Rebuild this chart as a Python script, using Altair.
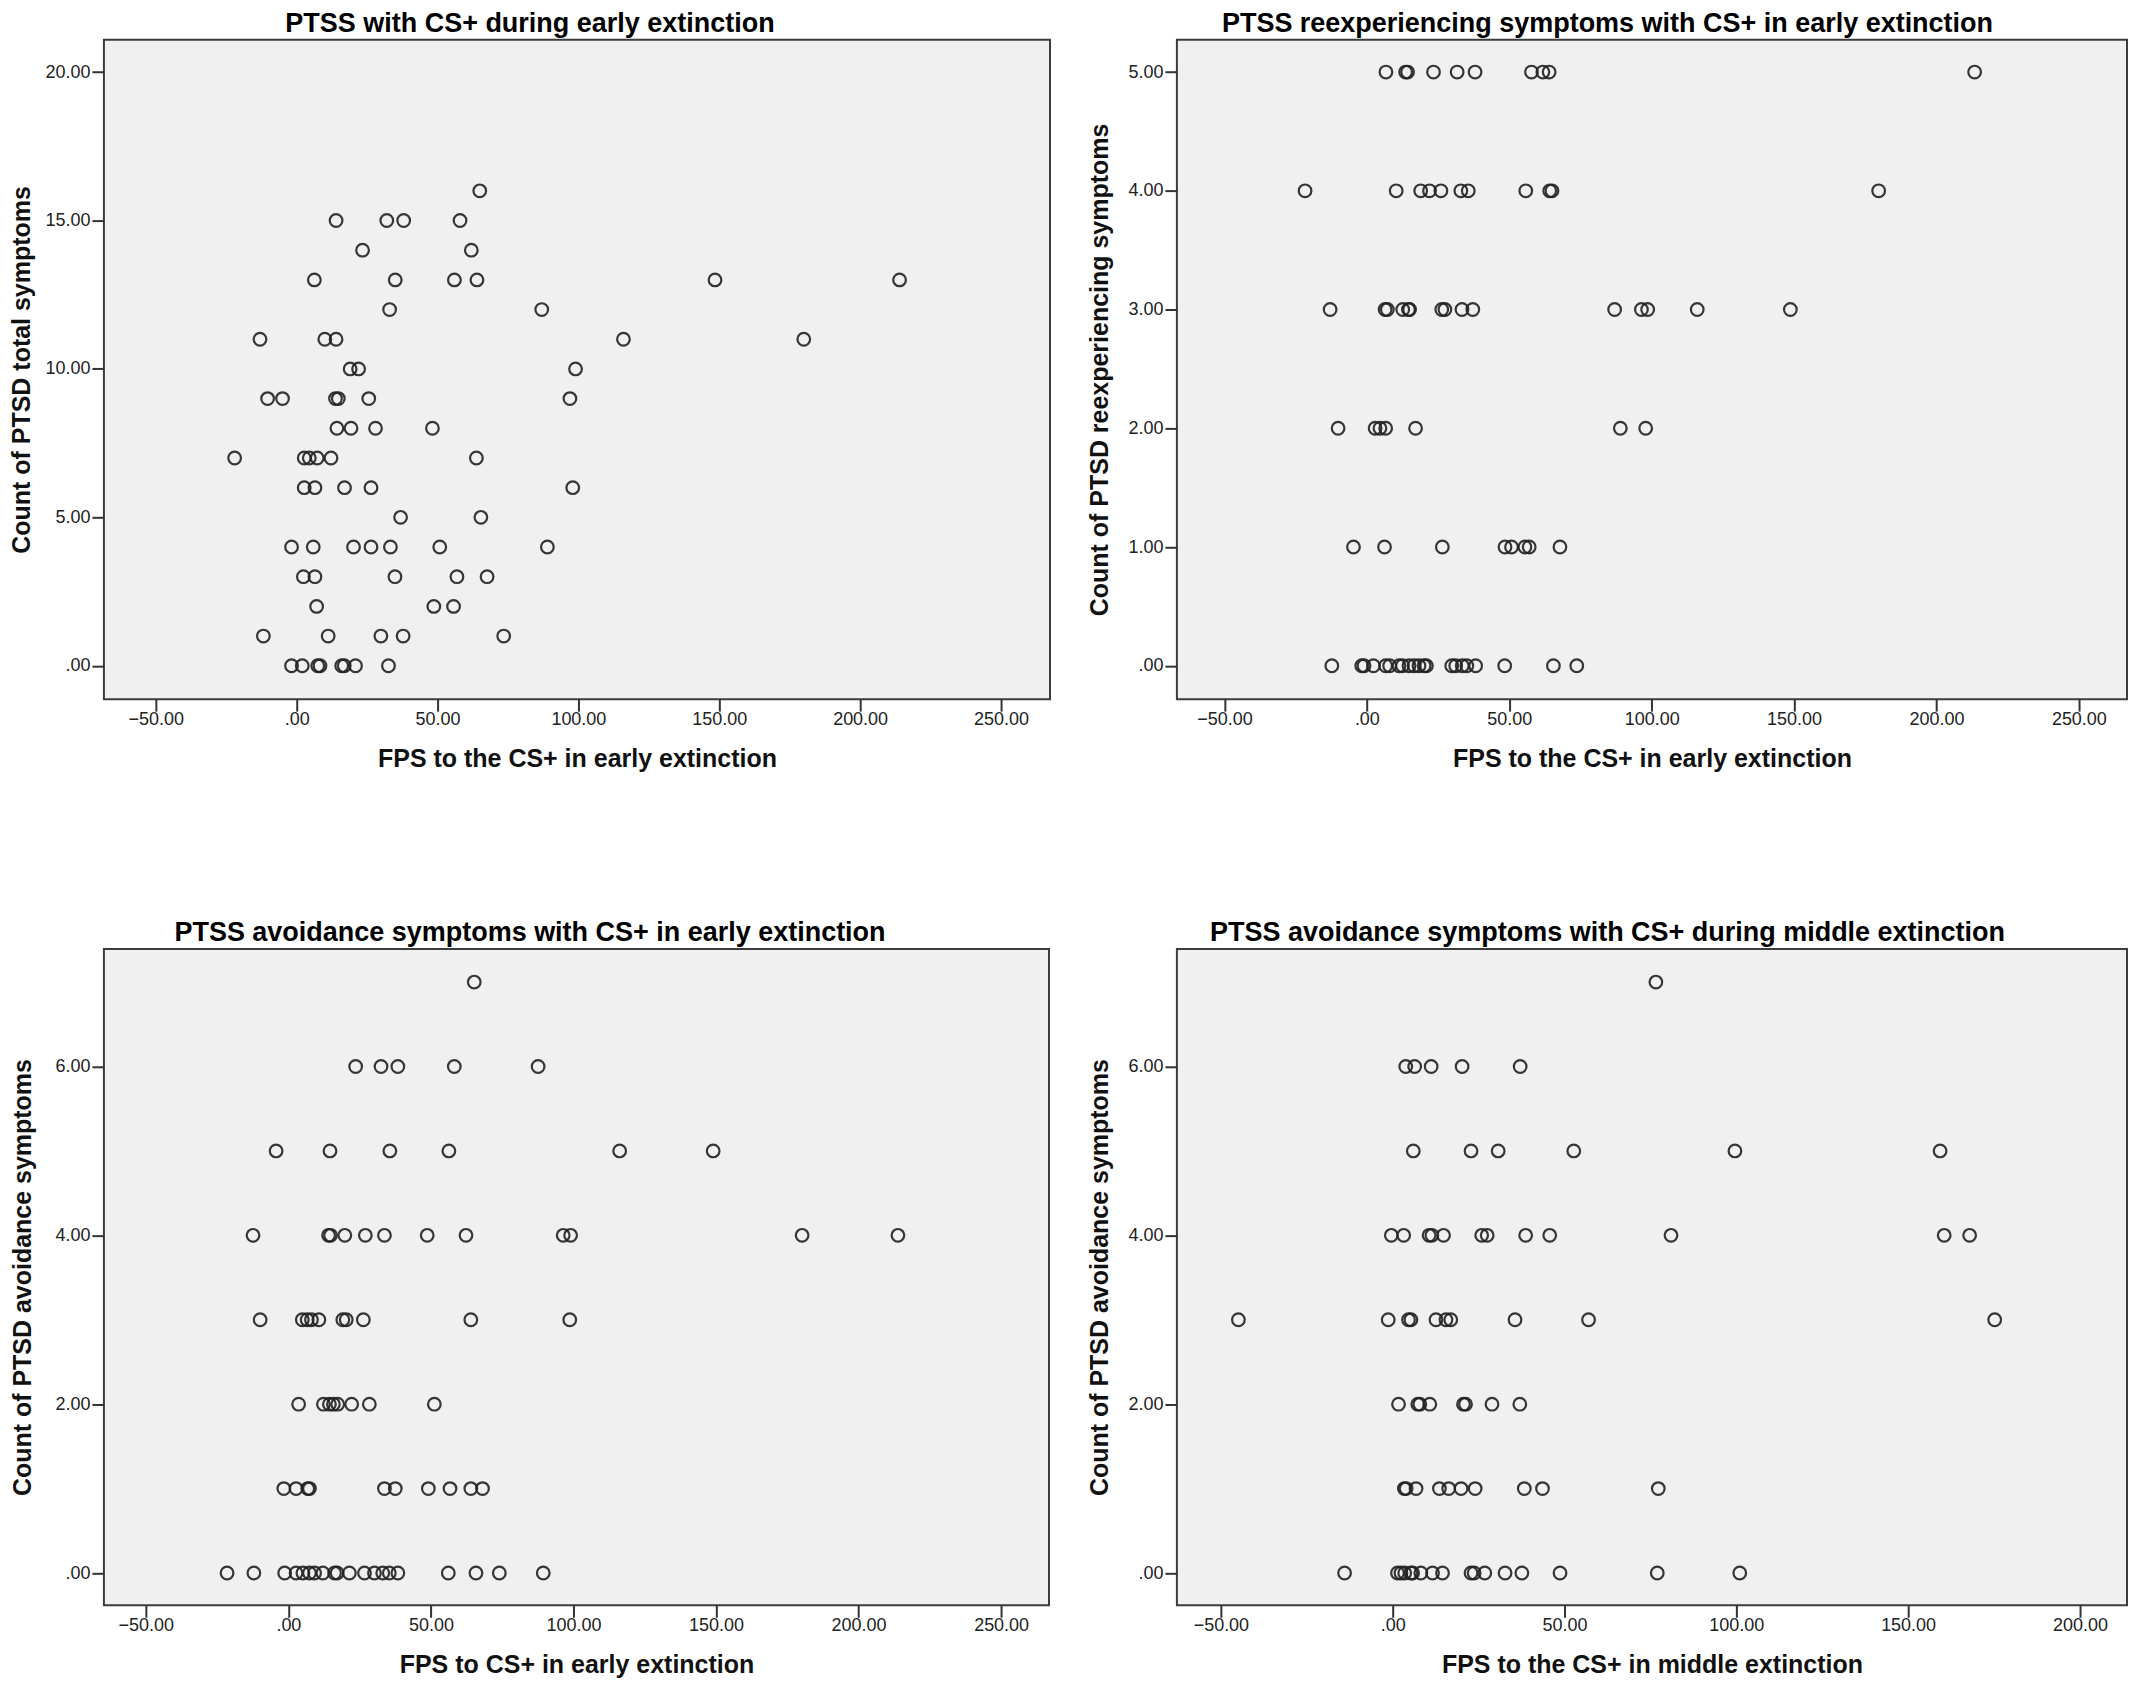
import altair as alt
import pandas as pd

FONT = "Liberation Sans"

# ---------------- Panel 1: PTSS total symptoms vs FPS CS+ early extinction
p1_x = [65,
        14, 32, 38, 58,
        23.4, 62,
        6.3, 35, 56, 64, 148.5, 214,
        33, 87,
        -13, 10, 14, 116, 180,
        19, 22, 99,
        -10.3, -5, 13.8, 14.8, 25.6, 97,
        14.3, 19.3, 28, 48.2,
        -22, 2.7, 4.5, 7.3, 12.2, 63.8,
        2.7, 6.5, 17, 26.4, 98,
        36.9, 65.4,
        -1.8, 5.9, 20.2, 26.4, 33.3, 50.8, 89,
        2.4, 6.5, 34.9, 56.9, 67.6,
        7.1, 48.7, 55.7,
        -11.8, 11.2, 29.9, 37.8, 73.5,
        -1.8, 2.0, 7.5, 8.3, 16.0, 16.9, 20.9, 32.6]
p1_y = [16,
        15, 15, 15, 15,
        14, 14,
        13, 13, 13, 13, 13, 13,
        12, 12,
        11, 11, 11, 11, 11,
        10, 10, 10,
        9, 9, 9, 9, 9, 9,
        8, 8, 8, 8,
        7, 7, 7, 7, 7, 7,
        6, 6, 6, 6, 6,
        5, 5,
        4, 4, 4, 4, 4, 4, 4,
        3, 3, 3, 3, 3,
        2, 2, 2,
        1, 1, 1, 1, 1,
        0, 0, 0, 0, 0, 0, 0, 0]

# ---------------- Panel 2: reexperiencing symptoms
p2_x = [6.7, 13.6, 14.3, 23.4, 31.7, 38.0, 57.8, 61.8, 64.0, 213.4,
        -21.7, 10.3, 18.9, 22.0, 26.0, 33.0, 35.6, 55.8, 64.2, 65.0, 179.7,
        -12.9, 6.4, 7.2, 12.6, 14.6, 15.0, 26.3, 27.4, 33.4, 37.2, 87.0, 96.4, 98.6, 116.0, 148.7,
        -10.1, 2.9, 4.6, 6.6, 17.1, 89.0, 97.9,
        -4.7, 6.2, 26.5, 48.5, 50.8, 55.5, 57.0, 67.8,
        -12.3, -1.8, -1.0, 2.3, 6.6, 8.0, 11.3, 12.5, 14.8, 16.6, 18.3, 20.1, 20.9,
        29.8, 31.2, 33.5, 35.1, 38.2, 48.4, 65.5, 73.7]
p2_y = [5, 5, 5, 5, 5, 5, 5, 5, 5, 5,
        4, 4, 4, 4, 4, 4, 4, 4, 4, 4, 4,
        3, 3, 3, 3, 3, 3, 3, 3, 3, 3, 3, 3, 3, 3, 3,
        2, 2, 2, 2, 2, 2, 2,
        1, 1, 1, 1, 1, 1, 1, 1,
        0, 0, 0, 0, 0, 0, 0, 0, 0, 0, 0, 0, 0,
        0, 0, 0, 0, 0, 0, 0, 0]

# ---------------- Panel 3: avoidance symptoms, early extinction
p3_x = [65.2,
        23.6, 32.5, 38.4, 58.2, 87.6,
        -4.3, 14.6, 35.6, 56.3, 116.2, 149.0,
        -12.4, 14.1, 14.8, 19.8, 27.0, 33.7, 48.7, 62.3, 96.4, 99.0, 180.2, 213.8,
        -9.9, 4.9, 6.6, 8.1, 10.7, 19.1, 20.3, 26.3, 64.0, 98.7,
        3.6, 12.3, 14.4, 15.8, 17.3, 22.2, 28.4, 51.2,
        -1.6, 2.7, 6.8, 7.4, 33.7, 37.5, 49.1, 56.7, 64.0, 68.1,
        -21.5, -12.1, -1.3, 2.7, 5.1, 7.4, 9.2, 12.1, 16.2, 17.1,
        21.4, 26.7, 30.2, 33.1, 35.4, 38.4, 56.1, 65.8, 74.0, 89.4]
p3_y = [7,
        6, 6, 6, 6, 6,
        5, 5, 5, 5, 5, 5,
        4, 4, 4, 4, 4, 4, 4, 4, 4, 4, 4, 4,
        3, 3, 3, 3, 3, 3, 3, 3, 3, 3,
        2, 2, 2, 2, 2, 2, 2, 2,
        1, 1, 1, 1, 1, 1, 1, 1, 1, 1,
        0, 0, 0, 0, 0, 0, 0, 0, 0, 0,
        0, 0, 0, 0, 0, 0, 0, 0, 0, 0]

# ---------------- Panel 4: avoidance symptoms, middle extinction
p4_x = [76.6,
        3.8, 6.4, 11.2, 20.2, 37.1,
        6.0, 22.8, 30.7, 52.7, 99.6, 159.3,
        -0.4, 3.2, 10.6, 11.4, 14.8, 25.9, 27.5, 38.7, 45.7, 81.0, 160.5, 167.9,
        -44.9, -1.3, 4.6, 5.3, 12.6, 15.5, 16.9, 35.6, 57.0, 175.2,
        1.7, 7.3, 7.9, 10.8, 20.6, 21.2, 28.9, 37.0,
        3.4, 3.9, 6.8, 13.6, 16.3, 19.9, 24.0, 38.3, 43.6, 77.3,
        -14.0, 1.4, 2.4, 3.5, 5.3, 5.8, 8.2, 11.6, 14.5,
        22.8, 23.7, 26.8, 32.7, 37.6, 48.7, 77.0, 101.0]
p4_y = [7,
        6, 6, 6, 6, 6,
        5, 5, 5, 5, 5, 5,
        4, 4, 4, 4, 4, 4, 4, 4, 4, 4, 4, 4,
        3, 3, 3, 3, 3, 3, 3, 3, 3, 3,
        2, 2, 2, 2, 2, 2, 2, 2,
        1, 1, 1, 1, 1, 1, 1, 1, 1, 1,
        0, 0, 0, 0, 0, 0, 0, 0, 0,
        0, 0, 0, 0, 0, 0, 0, 0]

x_ticks_early = [-50, 0, 50, 100, 150, 200, 250]
x_ticks_middle = [-50, 0, 50, 100, 150, 200]

LABEL_EXPR = "datum.value == 0 ? '.00' : format(datum.value, '.2f')"


def panel(xs, ys, title, xtitle, ytitle, xdom, ydom, xticks, yticks, w, h, ytp):
    df = pd.DataFrame({"x": xs, "y": ys})
    return (
        alt.Chart(df)
        .mark_point(shape="circle", filled=False, size=160, strokeWidth=2.2,
                    color="#222222", opacity=0.9)
        .encode(
            x=alt.X("x:Q",
                    scale=alt.Scale(domain=xdom, nice=False, zero=False),
                    axis=alt.Axis(values=xticks, labelExpr=LABEL_EXPR, title=xtitle)),
            y=alt.Y("y:Q",
                    scale=alt.Scale(domain=ydom, nice=False, zero=False),
                    axis=alt.Axis(values=yticks, labelExpr=LABEL_EXPR, title=ytitle,
                                  titlePadding=ytp)),
        )
        .properties(
            width=w, height=h,
            title=alt.TitleParams(text=title, fontSize=27, font=FONT, fontWeight="bold",
                                  anchor="middle", frame="bounds", baseline="alphabetic",
                                  offset=-19, color="#000000"),
        )
    )


c1 = panel(p1_x, p1_y, "PTSS with CS+ during early extinction",
           "FPS to the CS+ in early extinction", "Count of PTSD total symptoms",
           [-68.4, 267.4], [-1.125, 21.09], x_ticks_early, [0, 5, 10, 15, 20], 947, 660, 10)
c2 = panel(p2_x, p2_y, "PTSS reexperiencing symptoms with CS+ in early extinction",
           "FPS to the CS+ in early extinction", "Count of PTSD reexperiencing symptoms",
           [-66.7, 266.9], [-0.281, 5.272], x_ticks_early, [0, 1, 2, 3, 4, 5], 951, 660, 15)
c3 = panel(p3_x, p3_y, "PTSS avoidance symptoms with CS+ in early extinction",
           "FPS to CS+ in early extinction", "Count of PTSD avoidance symptoms",
           [-64.7, 266.8], [-0.382, 7.393], x_ticks_early, [0, 2, 4, 6], 946, 657, 19)
c4 = panel(p4_x, p4_y, "PTSS avoidance symptoms with CS+ during middle extinction",
           "FPS to the CS+ in middle extinction", "Count of PTSD avoidance symptoms",
           [-62.8, 213.7], [-0.382, 7.393], x_ticks_middle, [0, 2, 4, 6], 951, 657, 15)

chart = (
    alt.concat(c1, c2, c3, c4, columns=2,
               spacing={"row": 146, "column": 35})
    .properties(padding=0, background="white")
    .configure_view(fill="#F0F0F0", stroke="#3c3c3c", strokeWidth=2)
    .configure_axis(domain=False, grid=False, ticks=True, tickSize=12, tickWidth=2,
                    tickColor="#333333", labelFont=FONT, labelFontSize=18,
                    labelColor="#222222", labelPadding=2, labelFlush=False,
                    labelOverlap=False, titleFont=FONT, titleFontSize=25,
                    titleFontWeight="bold", titleColor="#111111")
    .configure_axisX(titlePadding=18, labelPadding=-1)
)

chart.save("out.html", embed_options={"renderer": "svg", "actions": False})
